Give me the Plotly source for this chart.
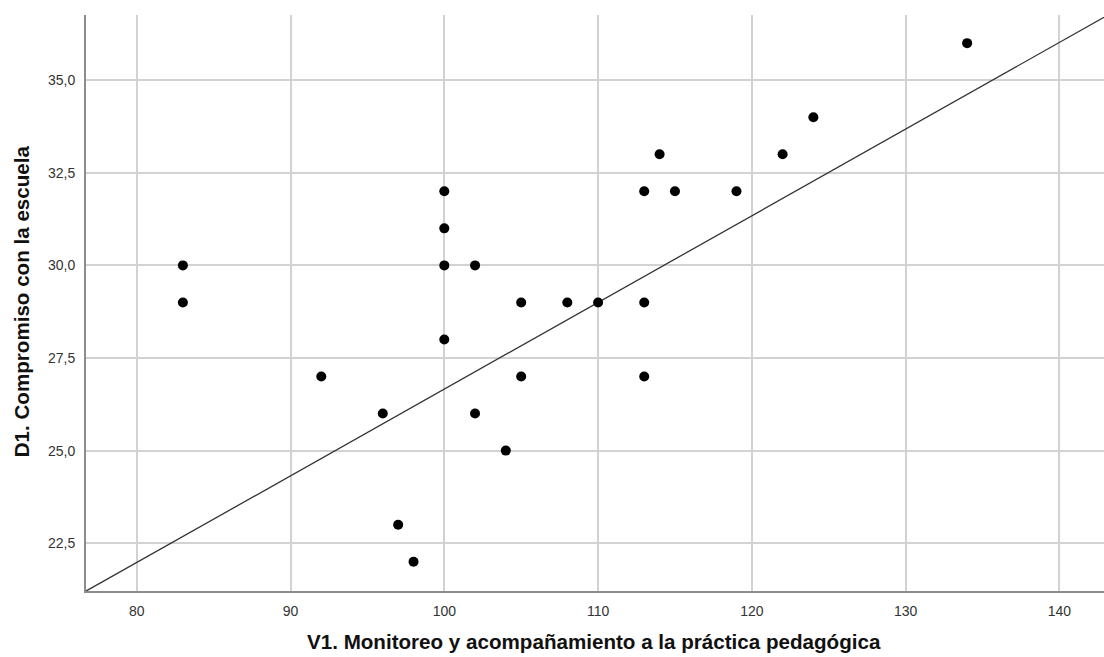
import plotly.graph_objects as go

# Data
v1_monitoreo = [83, 83, 92, 96, 97, 98, 100, 100, 100, 100, 102, 102, 104,
                105, 105, 108, 110, 113, 113, 113, 114, 115, 119, 122, 124, 134]
d1_compromiso = [30, 29, 27, 26, 23, 22, 32, 31, 30, 28, 30, 26, 25,
                 29, 27, 29, 29, 32, 29, 27, 33, 32, 32, 33, 34, 36]

# Fit line as displayed (intercept, slope)
fit_intercept = 3.26
fit_slope = 0.234

x_range = [76.7, 142.9]
y_range = [21.21, 36.76]
x_ticks = [80, 90, 100, 110, 120, 130, 140]
y_ticks = [22.5, 25.0, 27.5, 30.0, 32.5, 35.0]

x_title = "V1. Monitoreo y acompañamiento a la práctica pedagógica"
y_title = "D1. Compromiso con la escuela"

fit_x = x_range
fit_y = [fit_intercept + fit_slope * v for v in fit_x]

FONT = "Liberation Sans, Arial, sans-serif"

fig = go.Figure()
fig.add_trace(go.Scatter(
    x=fit_x, y=fit_y, mode="lines",
    line=dict(color="#333333", width=1.3),
    hoverinfo="skip", showlegend=False,
))
fig.add_trace(go.Scatter(
    x=v1_monitoreo, y=d1_compromiso, mode="markers",
    marker=dict(color="black", size=10, line=dict(width=0)),
    showlegend=False,
))

fig.update_layout(
    width=1104, height=657,
    margin=dict(l=86, r=0, t=15, b=66),
    paper_bgcolor="white", plot_bgcolor="white",
    separators=", ",
    font=dict(family=FONT, color="#333333"),
    xaxis=dict(
        range=x_range, tickvals=x_ticks, ticktext=[str(t) for t in x_ticks],
        showgrid=True, gridcolor="#d2d2d2", gridwidth=1.5,
        showline=True, linecolor="#8c8c8c", linewidth=2,
        zeroline=False, ticks="", ticklabelstandoff=6,
        tickfont=dict(size=14, color="#333333"),
    ),
    yaxis=dict(
        range=y_range, tickvals=y_ticks, tickformat=".1f",
        showgrid=True, gridcolor="#d2d2d2", gridwidth=1.5,
        showline=True, linecolor="#8c8c8c", linewidth=2,
        zeroline=False, ticks="", ticklabelstandoff=6,
        tickfont=dict(size=14, color="#333333"),
    ),
    annotations=[
        dict(text=x_title, xref="paper", yref="paper",
             x=0.499, y=-0.0885, xanchor="center", yanchor="middle",
             showarrow=False,
             font=dict(size=20.6, color="#111111", family=FONT, weight="bold")),
        dict(text=y_title, xref="paper", yref="paper",
             x=-0.0638, y=0.503, xanchor="center", yanchor="middle",
             textangle=-90, showarrow=False,
             font=dict(size=20.6, color="#111111", family=FONT, weight="bold")),
    ],
)

fig.write_html(
    "out.html",
    config={"displayModeBar": False},
    post_script="document.body.style.margin='0';document.body.style.overflow='hidden';",
)
